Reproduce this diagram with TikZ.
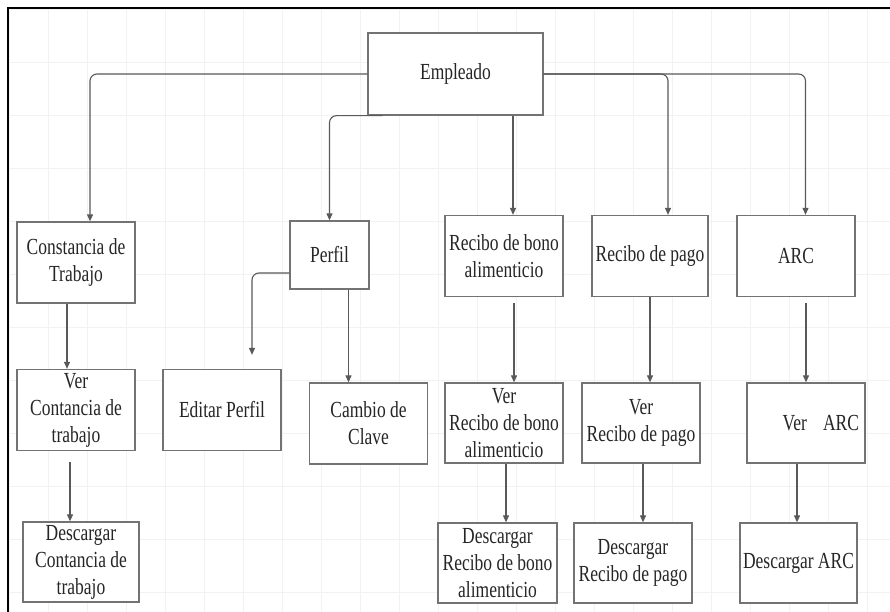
\documentclass[tikz,border=0pt]{standalone}
\usepackage{fontspec}
\setmainfont[FakeStretch=0.76]{Liberation Serif}
\usetikzlibrary{arrows.meta}
\begin{document}
\begin{tikzpicture}[x=1pt,y=-1pt]
\tikzstyle{box node}=[rectangle,draw=black!55,line width=1.3pt,fill=white,align=center,inner sep=2pt,minimum width=118,minimum height=81,font=\fontsize{23}{27}\selectfont,text=black!85]
\tikzset{
	link/.style={draw=black!65,line width=1.1pt,rounded corners=7pt,-{Triangle[width=6pt,length=7pt]}},
	grid line/.style={draw=black!5,line width=0.6pt}
}
\useasboundingbox (0,0) rectangle (890,612);
\fill[white] (0,0) rectangle (890,612);
\draw[grid line,xstep=39pt,ystep=53pt,shift={(9,9)}] (0,0) grid (881,603);
\draw[line width=2.6pt] (8,612) -- (8,8) -- (890,8);

\node[box node,minimum width=175,minimum height=82] (emp) at (455.5,74) {Empleado};

\node[box node] (cons) at (76,262.5) {Constancia de\\Trabajo};
\node[box node,minimum width=79,minimum height=68] (perfil) at (329.5,255) {Perfil};
\node[box node] (bono) at (504,256) {Recibo de bono\\alimenticio};
\node[box node,minimum width=116] (pago) at (650,256) {Recibo de pago};
\node[box node] (arc) at (796,256) {ARC};

\node[box node] (vercons) at (76,410) {Ver\\Contancia de\\trabajo};
\node[box node] (editar) at (222,410) {Editar Perfil};
\node[box node] (cambio) at (368.5,423.5) {Cambio de\\Clave};
\node[box node,minimum height=80] (verbono) at (504,423) {Ver\\Recibo de bono\\alimenticio};
\node[box node,minimum height=80] (verpago) at (641,423) {Ver\\Recibo de pago};
\node[box node,minimum height=80,text width=106pt,align=right] (verarc) at (806,423) {Ver\hspace{0.7em}ARC};

\node[box node,minimum width=116,minimum height=80] (dcons) at (81,562) {Descargar\\Contancia de\\trabajo};
\node[box node,minimum width=119,minimum height=80] (dbono) at (497.5,563) {Descargar\\Recibo de bono\\alimenticio};
\node[box node,minimum height=80] (dpago) at (633,563) {Descargar\\Recibo de pago};
\node[box node,minimum width=117,minimum height=80] (darc) at (798.5,563) {Descargar ARC};

\coordinate (editar tip) at ([xshift=30pt,yshift=14pt]editar.north);

% Empleado
\draw[link] (emp.west) -| ([xshift=14pt]cons.north);
\draw[link] ([xshift=-73pt]emp.south) -| (perfil.north);
\draw[link] ([xshift=9pt]bono.north |- emp.south) -- ([xshift=9pt]bono.north);
\draw[link] (emp.east) -| ([xshift=18pt]pago.north);
\draw[link] (emp.east) -| ([xshift=9.5pt]arc.north);

% segundo nivel
\draw[link] ([xshift=-9pt]cons.south) -- ([xshift=-9pt]vercons.north);
\draw[link] ([yshift=-18pt]perfil.west) -| (editar tip);
\draw[link] ([xshift=-20pt]cambio.north |- perfil.south) -- ([xshift=-20pt]cambio.north);
\draw[link] ([xshift=10pt,yshift=-6pt]bono.south) -- ([xshift=10pt]bono.south |- verbono.north);
\draw[link] (pago.south) -- (pago.south |- verpago.north);
\draw[link] ([xshift=10pt,yshift=-6pt]arc.south) -- ([xshift=10pt]arc.south |- verarc.north);

% descargas
\draw[link] ([xshift=-6pt,yshift=-11pt]vercons.south) -- ([xshift=-6pt]vercons.south |- dcons.north);
\draw[link] ([xshift=2pt]verbono.south) -- ([xshift=2pt]verbono.south |- dbono.north);
\draw[link] ([xshift=2pt]verpago.south) -- ([xshift=2pt]verpago.south |- dpago.north);
\draw[link] ([xshift=-9pt]verarc.south) -- ([xshift=-9pt]verarc.south |- darc.north);
\end{tikzpicture}
\end{document}
